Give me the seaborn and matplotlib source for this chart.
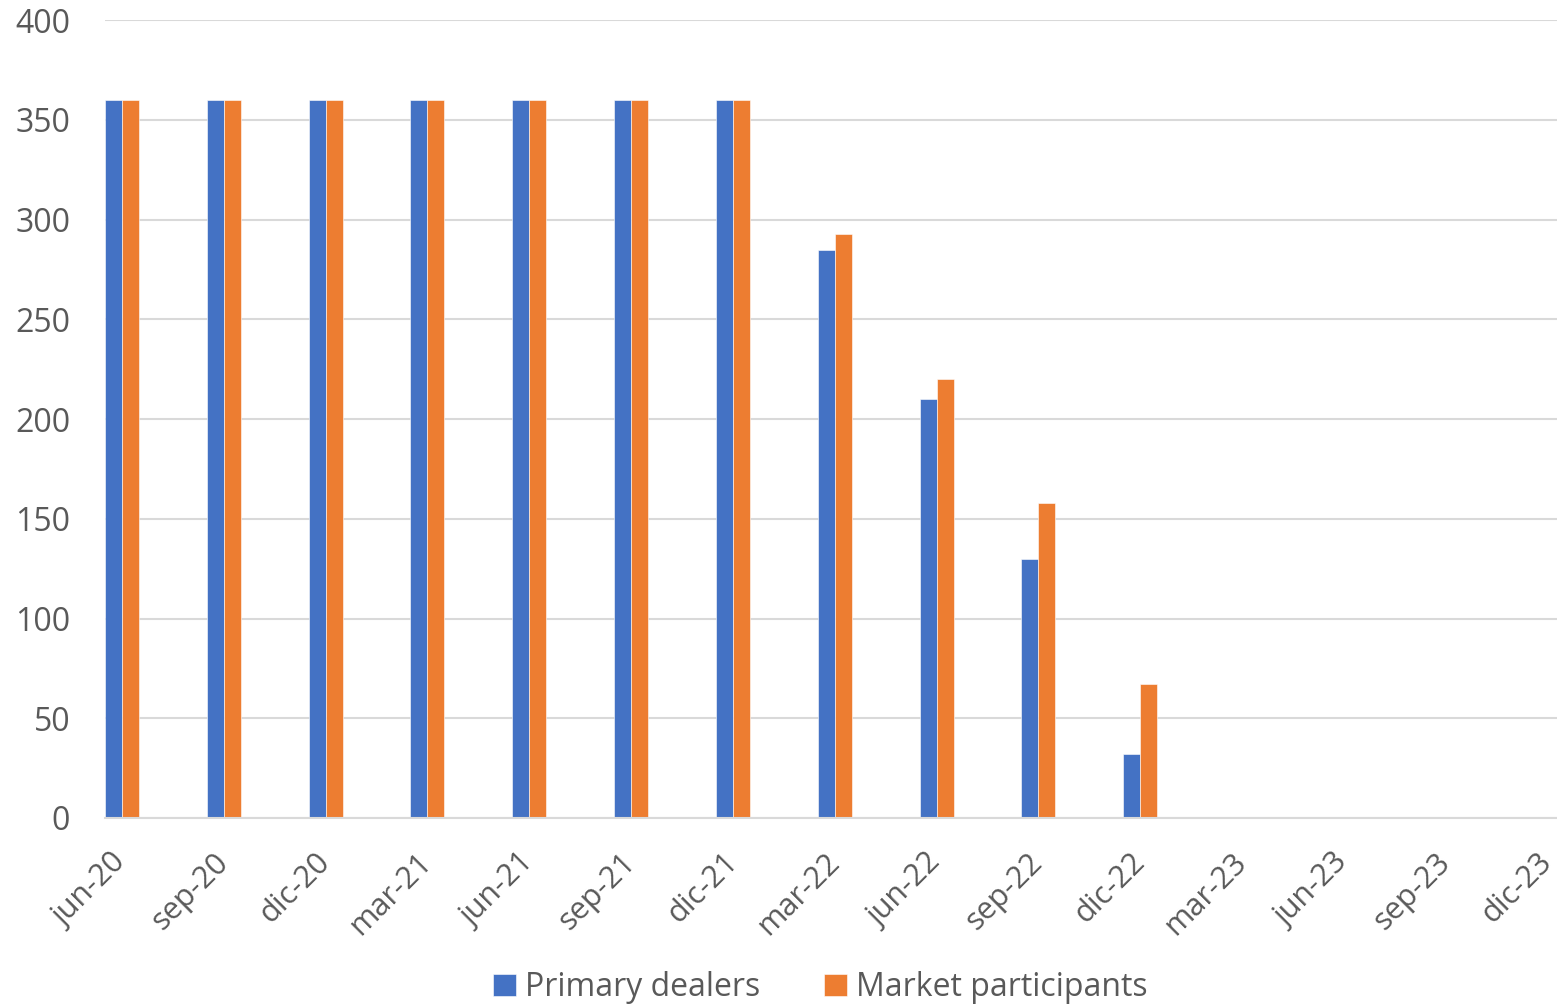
import pandas as pd
import numpy as np
import matplotlib
matplotlib.use("Agg")
import matplotlib.pyplot as plt
import matplotlib.transforms as mtransforms
import seaborn as sns

# quarterly dates shown on the axis
quarters = ["jun-20", "sep-20", "dic-20", "mar-21", "jun-21", "sep-21", "dic-21",
            "mar-22", "jun-22", "sep-22", "dic-22", "mar-23", "jun-23", "sep-23", "dic-23"]
primary_dealers = [360, 360, 360, 360, 360, 360, 360, 285, 210, 130, 32,
                   np.nan, np.nan, np.nan, np.nan]
market_participants = [360, 360, 360, 360, 360, 360, 360, 293, 220, 158, 67,
                       np.nan, np.nan, np.nan, np.nan]
series_names = ["Primary dealers", "Market participants"]
colors = ["#4472C4", "#ED7D31"]

df = pd.concat([
    pd.DataFrame({"Date": quarters, "Value": primary_dealers, "Series": series_names[0]}),
    pd.DataFrame({"Date": quarters, "Value": market_participants, "Series": series_names[1]}),
], ignore_index=True)

sns.set_style("white")
plt.rcParams["font.family"] = ["Open Sans", "DejaVu Sans"]
text_color = "#595959"
grid_color = "#D9D9D9"

fig = plt.figure(figsize=(15.57, 10.07), dpi=100)
ax = fig.add_axes([0.0674, 0.1877, 0.9326, 0.7923])

group_w = 0.334
sns.barplot(data=df, x="Date", y="Value", hue="Series", order=quarters,
            hue_order=series_names, palette=colors, width=group_w, saturation=1,
            edgecolor="white", linewidth=0.4, ax=ax, legend=True)

# the bars sit just right of each date tick
tick_pos = np.arange(len(quarters)) - group_w / 2
ax.set_xticks(tick_pos)
ax.set_xticklabels([])
# rotated date labels, hanging below and right of each tick
lbl_trans = ax.get_xaxis_transform() + mtransforms.ScaledTranslation(
    17 / 100, -40 / 100, fig.dpi_scale_trans)
for x, q in zip(tick_pos, quarters):
    ax.text(x, 0, q, transform=lbl_trans, rotation=45, ha="right", va="center",
            rotation_mode="anchor", fontsize=22, color=text_color)
ax.set_xlim(tick_pos[0], tick_pos[0] + 14.26)
ax.set_ylim(0, 400)
ax.set_yticks(range(0, 401, 50))
ax.tick_params(axis="y", length=0, labelsize=23, labelcolor=text_color, pad=25)
ax.tick_params(axis="x", length=9, width=1.5, color=grid_color)
ax.yaxis.grid(True, color=grid_color, linewidth=1.5)
ax.set_axisbelow(True)
ax.set_xlabel("")
ax.set_ylabel("")
for s in ["top", "right", "left"]:
    ax.spines[s].set_visible(False)
ax.spines["bottom"].set_color(grid_color)
ax.spines["bottom"].set_linewidth(1.5)

handles, labels = ax.get_legend_handles_labels()
ax.get_legend().remove()
leg = fig.legend(handles, labels, loc="lower center", bbox_to_anchor=(0.527, -0.026),
                 ncol=2, frameon=False, fontsize=23, handlelength=0.7, handleheight=0.7,
                 handletextpad=0.3, columnspacing=2.0)
for t in leg.get_texts():
    t.set_color(text_color)

fig.savefig("out.png", dpi=100)
